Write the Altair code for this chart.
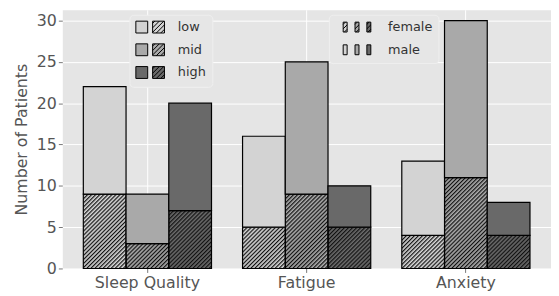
import urllib.parse
import altair as alt
import pandas as pd

categories = ["Sleep Quality", "Fatigue", "Anxiety"]
levels = ["low", "mid", "high"]
sexes = ["female", "male"]
female_counts = [9, 3, 7, 5, 9, 5, 4, 11, 4]
male_counts = [13, 6, 13, 11, 16, 5, 9, 19, 4]
level_colors = ["#d3d3d3", "#a9a9a9", "#696969"]
y_ticks = [0, 5, 10, 15, 20, 25, 30]

rows = []
k = 0
for c in categories:
    for lv in levels:
        rows.append({"cat": c, "level": lv, "female": female_counts[k], "male": male_counts[k]})
        k += 1
df = pd.DataFrame(rows)

W, H = 495, 262
YMAX = 31.3
P_IN, P_OUT = 0.195, 0.132
FONT = "DejaVu Sans"

# hatch texture (drawn in pixel units, stretched to each bar without scaling)
hatch_svg = ("<svg xmlns='http://www.w3.org/2000/svg'><defs>"
             "<pattern id='h' width='2.9' height='10' patternUnits='userSpaceOnUse' "
             "patternTransform='rotate(45)'><rect x='0' y='0' width='1.2' height='10' fill='#111'/>"
             "</pattern></defs><rect width='100%' height='100%' fill='url(#h)'/></svg>")
hatch_url = "data:image/svg+xml;charset=utf-8," + urllib.parse.quote(hatch_svg)


def rect(x0, y0, x1, y1):
    return f"M{x0:.3f},{y0:.3f}L{x1:.3f},{y0:.3f}L{x1:.3f},{y1:.3f}L{x0:.3f},{y1:.3f}Z"


def hatch(x0, y0, x1, y1, sp):
    out = ""
    c = x0 + y0 + sp / 2
    while c < x1 + y1:
        xa = max(x0, c - y1)
        xb = min(x1, c - y0)
        if xb - xa > 0.05:
            out += f"M{xa:.3f},{c - xa:.3f}L{xb:.3f},{c - xb:.3f}"
        c += sp
    return out


# level legend symbol: solid square + hatched square
lvl_path = rect(-1, -1, 1, 1) + rect(1.83, -1, 3.83, 1) + hatch(1.83, -1, 3.83, 1, 0.75)
# sex legend symbols: three narrow bars, hatched or plain
f_path = ""
m_path = ""
for j in range(3):
    x0 = 0.4 + 2.4 * j
    f_path += rect(x0, -1, x0 + 0.8, 1) + hatch(x0, -1, x0 + 0.8, 1, 0.9)
    m_path += rect(x0, -1, x0 + 0.8, 1)

band3 = {"gradient": "linear", "x1": 0, "y1": 0, "x2": 1, "y2": 0,
         "stops": [{"offset": 0, "color": level_colors[0]}, {"offset": 0.3333, "color": level_colors[0]},
                   {"offset": 0.3333, "color": level_colors[1]}, {"offset": 0.6667, "color": level_colors[1]},
                   {"offset": 0.6667, "color": level_colors[2]}, {"offset": 1, "color": level_colors[2]}]}

base = alt.Chart(df).transform_calculate(total="datum.female + datum.male", sex="'female'")

x_enc = alt.X("cat:N", sort=categories,
              scale=alt.Scale(domain=categories, paddingInner=P_IN, paddingOuter=P_OUT),
              axis=alt.Axis(title=None, labelAngle=0, grid=True, labelFontSize=16, labelPadding=2))
xo_enc = alt.XOffset("level:N", sort=levels,
                     scale=alt.Scale(domain=levels, paddingInner=0, paddingOuter=0))
y_scale = alt.Scale(domain=[0, YMAX], nice=False, zero=True)
y_axis = alt.Axis(title="Number of Patients", values=y_ticks, labelFontSize=16, labelPadding=2,
                  titleFontSize=16, titlePadding=7, titleFontWeight="normal", titleColor="#555555")

legend_common = dict(orient="none", title=None, labelFont=FONT, labelFontSize=13, labelColor="#333333",
                     fillColor="#E6E6E6", strokeColor="#EFEFEF", cornerRadius=4, padding=6,
                     symbolStrokeWidth=1, symbolOpacity=1)

fill_enc = alt.Fill("level:N", sort=levels, scale=alt.Scale(domain=levels, range=level_colors),
                    legend=alt.Legend(legendX=68, legendY=5, symbolType=lvl_path, symbolSize=144,
                                      labelOffset=30, rowPadding=6, symbolStrokeColor="black",
                                      **legend_common))

female = base.mark_bar(strokeWidth=0).encode(
    x=x_enc, xOffset=xo_enc,
    y=alt.Y("female:Q", scale=y_scale, axis=y_axis),
    fill=fill_enc,
)

female_hatch = base.mark_image(aspect=False).encode(
    x=x_enc, xOffset=xo_enc,
    y=alt.Y("female:Q", scale=y_scale, axis=y_axis),
    y2=alt.datum(0),
    url=alt.value(hatch_url),
)

female_edge = base.mark_bar(fillOpacity=0, stroke="black", strokeWidth=1.2).encode(
    x=x_enc, xOffset=xo_enc,
    y=alt.Y("female:Q", scale=y_scale, axis=y_axis),
)

male = base.mark_bar(stroke="black", strokeWidth=1.2).encode(
    x=x_enc, xOffset=xo_enc,
    y=alt.Y("total:Q", scale=y_scale, axis=y_axis),
    y2=alt.Y2("female:Q"),
    fill=fill_enc,
)

marker = base.mark_point(opacity=0, filled=True, stroke="black", strokeWidth=1).encode(
    x=x_enc, xOffset=xo_enc,
    y=alt.Y("female:Q", scale=y_scale, axis=y_axis),
    fill=alt.value(band3),
    stroke=alt.value("black"),
    strokeOpacity=alt.value(1),
    shape=alt.Shape("sex:N", scale=alt.Scale(domain=sexes, range=[f_path, m_path]),
                    legend=alt.Legend(legendX=270, legendY=5, symbolSize=100,
                                      labelOffset=41, rowPadding=8, **legend_common)),
)

chart = alt.layer(female, female_hatch, female_edge, male, marker).properties(
    width=W, height=H,
    padding={"left": 55, "top": 0, "right": 0, "bottom": 22},
    autosize=alt.AutoSizeParams(type="none"),
    background="white",
).configure_view(fill="#E5E5E5", stroke="transparent").configure_axis(
    labelFont=FONT, titleFont=FONT, labelColor="#555555", tickColor="#777777", tickSize=4,
    tickWidth=1, domain=False, gridColor="white", gridWidth=1,
)

chart.save("out.html", embed_options={"renderer": "svg", "actions": False})
